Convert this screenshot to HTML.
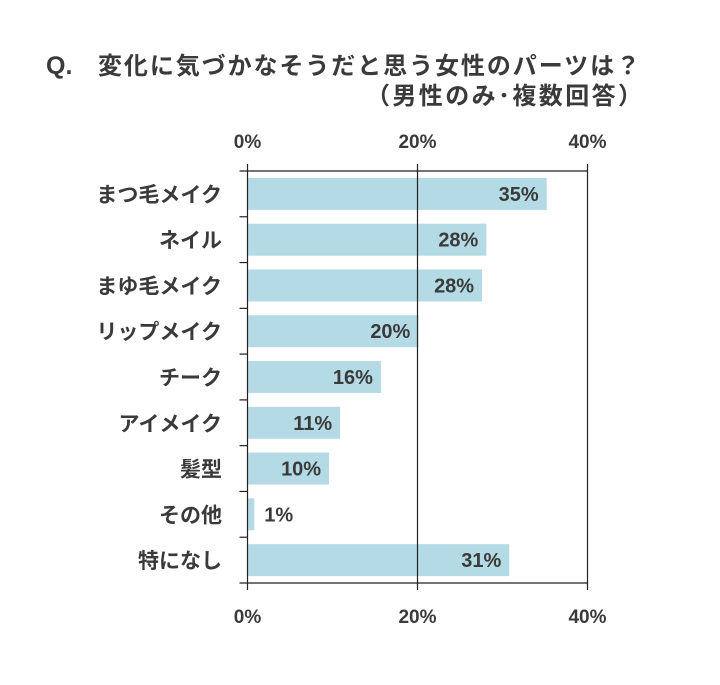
<!DOCTYPE html>
<html><head><meta charset="utf-8">
<style>
body{margin:0;background:#fff;}
svg text{font-family:"Liberation Sans","Noto Sans CJK JP",sans-serif;font-weight:bold;fill:#3a3a3a;}
</style></head>
<body>
<svg id="chart" width="720" height="680" viewBox="0 0 720 680" xmlns="http://www.w3.org/2000/svg">
<text x="46" y="74" font-size="25">Q.</text>
<text x="98" y="74" font-size="24" textLength="542" lengthAdjust="spacing">変化に気づかなそうだと思う女性のパーツは？</text>
<text x="366" y="104" font-size="24" textLength="276" lengthAdjust="spacing">（男性のみ･複数回答）</text>
</svg>
<script>
const categories=["まつ毛メイク","ネイル","まゆ毛メイク","リップメイク","チーク","アイメイク","髪型","その他","特になし"];
const values=[35.2,28.1,27.6,20.1,15.7,10.9,9.6,0.8,30.8];
const tickValues=[0,20,40];
const tickLabels=["0%","20%","40%"];
const svg=document.getElementById('chart');
const NS="http://www.w3.org/2000/svg";
const L=247.5,R=587.5,T=171,B=583,MAX=40;
const x=v=>L+(v/MAX)*(R-L);
const band=(B-T)/categories.length;
const y=i=>T+i*band;
function mk(tag,attrs){const e=document.createElementNS(NS,tag);for(const k in attrs)e.setAttribute(k,attrs[k]);svg.appendChild(e);return e;}
values.forEach((v,i)=>{
  const r=mk('rect',{x:L,y:y(i)+band/2-16,width:x(v)-L,height:32,fill:'#b4dbe5'});
  
  
  const lbl=Math.round(v)+'%';
  const inside=x(v)-L>60;
  const t=mk('text',{x:inside?x(v)-8:x(v)+10,y:y(i)+band/2+7,'font-size':20,'text-anchor':inside?'end':'start'});
  t.textContent=lbl;
  
  
  const c=mk('text',{x:222,y:y(i)+band/2+8,'font-size':21,'text-anchor':'end'});
  c.textContent=categories[i];
  
  
});
tickValues.forEach((v,i)=>{
  const g=mk('line',{x1:x(v),x2:x(v),y1:T-7,y2:B+7,stroke:'#222','stroke-width':1.2});
  
  
  [148,623].forEach(yy=>{
    const t=mk('text',{x:x(v),y:yy,'font-size':19,'text-anchor':'middle'});
    t.textContent=tickLabels[i];
    
    
  });
});
[T,B].forEach(yy=>{
  const a=mk('line',{x1:L-8,x2:R,y1:yy,y2:yy,stroke:'#222','stroke-width':1.2});
  
  
});
for(let i=1;i<categories.length;i++){
  const t=mk('line',{x1:L-8,x2:L,y1:y(i),y2:y(i),stroke:'#222','stroke-width':1.2});
  
  
}
</script>
</body></html>
